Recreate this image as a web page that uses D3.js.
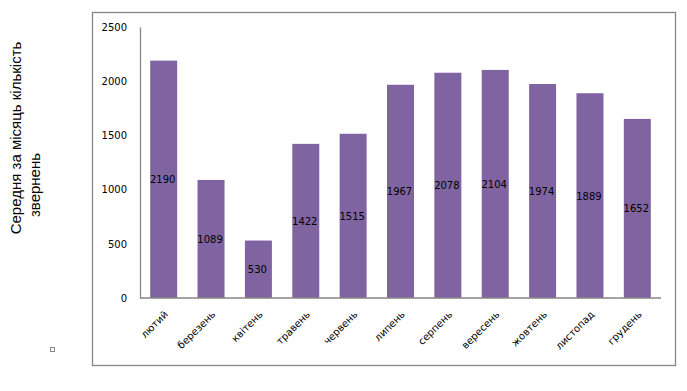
<!DOCTYPE html>
<html>
<head>
<meta charset="utf-8">
<script src="https://cdn.jsdelivr.net/npm/d3@7"></script>
<style>
  body { margin: 0; background: #fff; }
  svg { display: block; }
  .lbl { font-family: "DejaVu Sans", Verdana, sans-serif; font-size: 10px; fill: #000; }
</style>
</head>
<body>
<svg id="chart" width="687" height="391"></svg>
<script>
// months (Ukrainian) and average monthly number of requests
var months = ["лютий", "березень", "квітень", "травень", "червень", "липень",
              "серпень", "вересень", "жовтень", "листопад", "грудень"];
var values = [2190, 1089, 530, 1422, 1515, 1967, 2078, 2104, 1974, 1889, 1652];
var yTicks = [0, 500, 1000, 1500, 2000, 2500];
var titleLines = ["Середня за місяць кількість", "звернень"];

var svg = d3.select("#chart");
var grey = "#868686";
var purple = "#8064A2";

// outer chart frame
svg.append("rect")
   .attr("x", 92.5).attr("y", 12.5)
   .attr("width", 583).attr("height", 353)
   .attr("fill", "none").attr("stroke", grey).attr("stroke-width", 1.3);

var plotLeft = 140, plotRight = 661, plotTop = 27, plotBottom = 298;

var x = d3.scaleBand().domain(months).range([plotLeft, plotRight]).paddingInner(0.43).paddingOuter(0.215);
var y = d3.scaleLinear().domain([0, 2500]).range([plotBottom, plotTop]);

// bars
svg.append("g").selectAll("rect")
   .data(values)
   .enter().append("rect")
   .attr("x", function(d, i) { return x(months[i]); })
   .attr("y", function(d) { return y(d); })
   .attr("width", x.bandwidth())
   .attr("height", function(d) { return y(0) - y(d); })
   .attr("fill", purple);

// value labels in the middle of each bar
svg.append("g").selectAll("text")
   .data(values)
   .enter().append("text")
   .attr("class", "lbl")
   .attr("x", function(d, i) { return x(months[i]) + x.bandwidth() / 2 - 1; })
   .attr("y", function(d) { return (y(d) + y(0)) / 2 + 4; })
   .attr("text-anchor", "middle")
   .text(function(d) { return d; });

// y axis
var yAxis = d3.axisLeft(y).tickValues(yTicks).tickFormat(d3.format("d")).tickSize(0).tickPadding(13);
var gy = svg.append("g").attr("transform", "translate(" + plotLeft + ",0)").call(yAxis);
gy.attr("font-family", null).attr("font-size", null);
gy.select(".domain").attr("stroke", grey).attr("stroke-width", 1.3);
gy.selectAll("text").attr("class", "lbl");

// x axis line
var xAxis = d3.axisBottom(x).tickSize(0).tickFormat("");
var gx = svg.append("g").attr("transform", "translate(0," + plotBottom + ")").call(xAxis);
gx.select(".domain").attr("stroke", grey).attr("stroke-width", 1.3)
   .attr("d", "M" + plotLeft + ",0H" + plotRight);

// rotated month labels
svg.append("g").selectAll("text")
   .data(months)
   .enter().append("text")
   .attr("class", "lbl")
   .attr("text-anchor", "end")
   .attr("transform", function(d) {
      return "translate(" + (x(d) + x.bandwidth() / 2 + 5) + "," + (plotBottom + 17) + ") rotate(-45)";
   })
   .text(function(d) { return d; });

// y axis title (two lines, rotated)
var title = svg.append("g")
   .attr("font-family", "'Liberation Sans', Arial, sans-serif")
   .attr("font-size", 15)
   .attr("fill", "#000");
title.append("text")
   .attr("transform", "translate(21,138) rotate(-90)")
   .attr("text-anchor", "middle")
   .text(titleLines[0]);
title.append("text")
   .attr("transform", "translate(40,185) rotate(-90)")
   .attr("text-anchor", "middle")
   .text(titleLines[1]);

// small legend marker remnant
svg.append("rect")
   .attr("x", 50.5).attr("y", 347.5)
   .attr("width", 4).attr("height", 4)
   .attr("fill", "none").attr("stroke", grey);
</script>
</body>
</html>
